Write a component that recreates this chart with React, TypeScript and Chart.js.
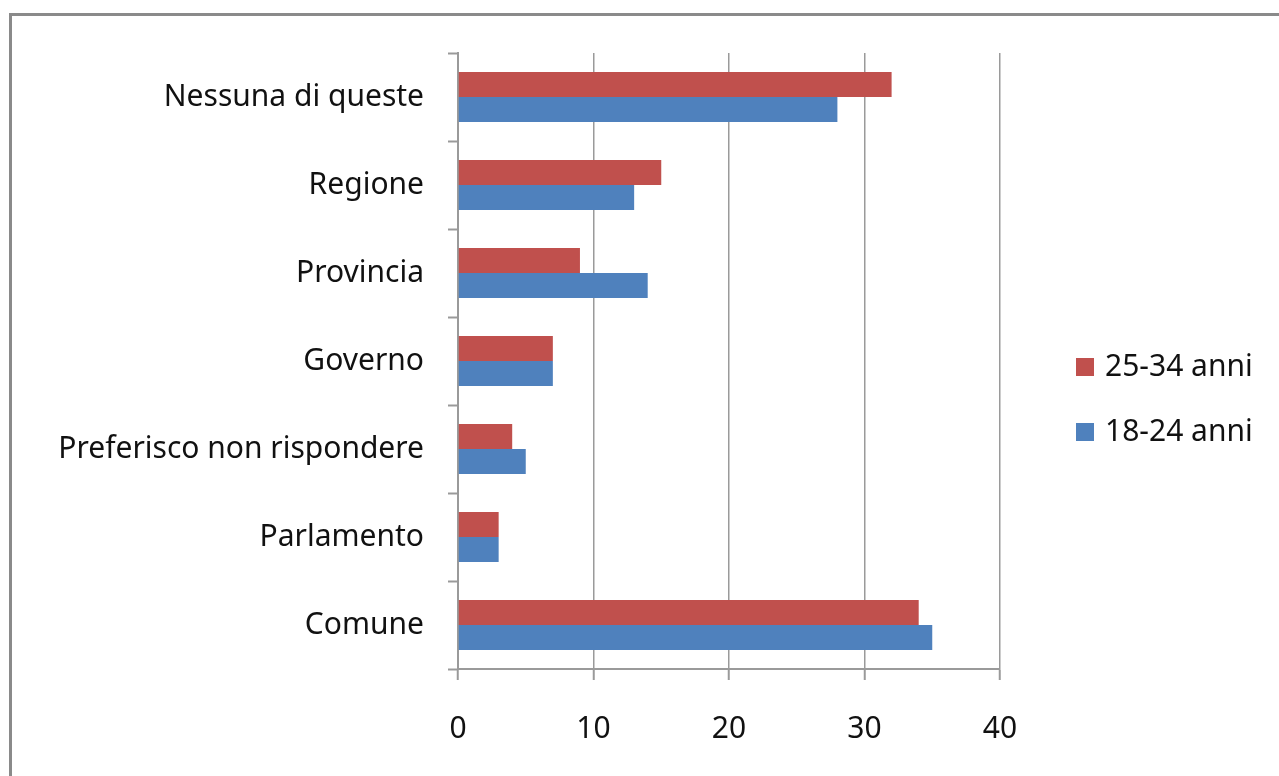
import React, { useEffect, useRef } from "react";
import { Chart, registerables } from "chart.js";

Chart.register(...registerables);

const categories = [
  "Nessuna di queste",
  "Regione",
  "Provincia",
  "Governo",
  "Preferisco non rispondere",
  "Parlamento",
  "Comune",
];
const seriesNames = ["25-34 anni", "18-24 anni"];
const values2534 = [32, 15, 9, 7, 4, 3, 34];
const values1824 = [28, 13, 14, 7, 5, 3, 35];
const xTicks = [0, 10, 20, 30, 40];

const RED = "#C0504D";
const BLUE = "#4F81BD";
const FONT = '"Noto Sans", sans-serif';
const AXIS = "#9a9a9a";

const legendPlugin = {
  id: "sideLegend",
  afterDraw(chart: any) {
    const ctx = chart.ctx;
    ctx.save();
    const items = chart.data.datasets;
    const x0 = 1076;
    const ys = [367, 432];
    items.forEach((ds: any, i: number) => {
      const y = ys[i];
      ctx.fillStyle = ds.backgroundColor;
      ctx.fillRect(x0, y - 9, 18, 18);
      ctx.fillStyle = "#111";
      ctx.font = `30px ${FONT}`;
      ctx.textBaseline = "middle";
      ctx.textAlign = "left";
      ctx.fillText(ds.label, 1105, y);
    });
    ctx.restore();
  },
};

export default function App() {
  const ref = useRef<HTMLCanvasElement | null>(null);
  useEffect(() => {
    if (!ref.current) return;
    const chart = new Chart(ref.current, {
      type: "bar",
      data: {
        labels: categories,
        datasets: [
          {
            label: seriesNames[0],
            data: values2534,
            backgroundColor: RED,
            categoryPercentage: 0.568,
            barPercentage: 1,
          },
          {
            label: seriesNames[1],
            data: values1824,
            backgroundColor: BLUE,
            categoryPercentage: 0.568,
            barPercentage: 1,
          },
        ],
      },
      options: {
        indexAxis: "y",
        animation: false,
        responsive: true,
        maintainAspectRatio: false,
        layout: { padding: { top: 53, right: 279, left: 0, bottom: 0 } },
        plugins: {
          legend: { display: false },
          tooltip: { enabled: false },
        },
        scales: {
          x: {
            type: "linear",
            min: 0,
            max: 40,
            afterBuildTicks(scale: any) {
              scale.ticks = xTicks.map((v) => ({ value: v }));
            },
            afterFit(scale: any) {
              scale.height = 107;
            },
            grid: {
              color: AXIS,
              tickColor: AXIS,
              tickLength: 11,
              lineWidth: 1.5,
              tickWidth: 2,
            },
            border: { color: AXIS, width: 2 },
            ticks: {
              color: "#111",
              font: { family: FONT, size: 30 },
              padding: 31,
            },
          },
          y: {
            type: "category",
            afterFit(scale: any) {
              scale.width = 458;
            },
            grid: {
              offset: true,
              drawOnChartArea: false,
              tickColor: AXIS,
              tickLength: 10,
              tickWidth: 2,
            },
            border: { color: AXIS, width: 2 },
            ticks: {
              color: "#111",
              font: { family: FONT, size: 30 },
              padding: 24,
            },
          },
        },
      },
      plugins: [legendPlugin],
    });
    return () => chart.destroy();
  }, []);

  return (
    <div
      style={{
        position: "fixed",
        left: 0,
        top: 0,
        width: 1279,
        height: 776,
        overflow: "hidden",
        background: "#fff",
      }}
    >
      <div
        style={{
          position: "absolute",
          left: 9,
          top: 13,
          width: 1270,
          height: 3,
          background: "#8a8a8a",
        }}
      />
      <div
        style={{
          position: "absolute",
          left: 9,
          top: 13,
          width: 3,
          height: 763,
          background: "#8a8a8a",
        }}
      />
      <div style={{ position: "absolute", left: 0, top: 0, width: 1279, height: 776 }}>
        <canvas ref={ref} />
      </div>
    </div>
  );
}
